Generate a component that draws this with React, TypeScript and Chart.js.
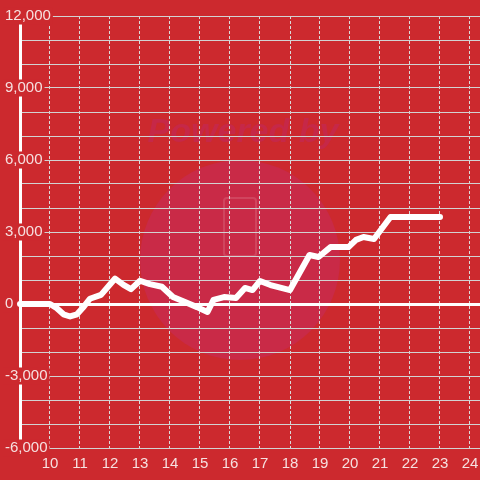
import React, { useEffect, useRef } from "react";
import { Chart, registerables } from "chart.js";

Chart.register(...registerables);

// Hours of the day (x) and cumulative values (y)
const hours = [9, 10, 10.2, 10.45, 10.67, 10.9, 11.1, 11.33, 11.7, 12.17, 12.45, 12.7, 13.0, 13.33, 13.73, 14.1, 14.5, 14.9, 15.25, 15.45, 15.8, 16.2, 16.5, 16.75, 17.0, 17.35, 18.0, 18.65, 18.95, 19.35, 19.95, 20.2, 20.45, 20.8, 21.35, 23.0];
const values = [0, 0, -150, -430, -520, -430, -150, 220, 380, 1060, 800, 620, 970, 830, 720, 290, 80, -130, -330, 170, 290, 250, 670, 580, 960, 790, 580, 2040, 1960, 2370, 2370, 2670, 2790, 2710, 3625, 3625];
const yTickLabels = [-6000, -3000, 0, 3000, 6000, 9000, 12000];
const xTickLabels = [10, 11, 12, 13, 14, 15, 16, 17, 18, 19, 20, 21, 22, 23, 24];

const BG = "#cc292e";
const FONT = "'Liberation Sans', Arial, sans-serif";

const backgroundPlugin = {
  id: "bgWatermark",
  beforeDraw(chart: any) {
    const { ctx, width, height } = chart;
    ctx.save();
    ctx.fillStyle = BG;
    ctx.fillRect(0, 0, width, height);
    // watermark
    ctx.fillStyle = "#c92a47";
    ctx.beginPath();
    ctx.arc(240, 260, 100, 0, Math.PI * 2);
    ctx.fill();
    ctx.font = "italic bold 34px " + FONT;
    ctx.fillStyle = "#c62848";
    ctx.textAlign = "center";
    ctx.textBaseline = "middle";
    ctx.fillText("Powered by", 243, 133);
    ctx.strokeStyle = "rgba(255,255,255,0.13)";
    ctx.lineWidth = 2;
    const x = 224, y = 198, w = 32, h = 58, r = 3;
    ctx.beginPath();
    ctx.moveTo(x + r, y);
    ctx.lineTo(x + w - r, y);
    ctx.quadraticCurveTo(x + w, y, x + w, y + r);
    ctx.lineTo(x + w, y + h - r);
    ctx.quadraticCurveTo(x + w, y + h, x + w - r, y + h);
    ctx.lineTo(x + r, y + h);
    ctx.quadraticCurveTo(x, y + h, x, y + h - r);
    ctx.lineTo(x, y + r);
    ctx.quadraticCurveTo(x, y, x + r, y);
    ctx.stroke();
    ctx.restore();
  },
};

export default function App() {
  const ref = useRef<HTMLCanvasElement | null>(null);
  useEffect(() => {
    document.body.style.margin = "0";
    const canvas = ref.current!;
    const points = hours.map((h, i) => ({ x: h, y: values[i] }));
    const chart = new Chart(canvas, {
      type: "line",
      data: {
        datasets: [
          {
            data: points,
            borderColor: "#ffffff",
            borderWidth: 6,
            pointRadius: 0,
            tension: 0,
            borderCapStyle: "round",
            borderJoinStyle: "round",
            fill: false,
            clip: false as any,
          },
        ],
      },
      options: {
        animation: false,
        responsive: false,
        devicePixelRatio: 1,
        layout: { padding: { left: 20, right: 0, top: 16, bottom: 0 } },
        plugins: { legend: { display: false }, tooltip: { enabled: false } },
        scales: {
          x: {
            type: "linear",
            min: 9,
            max: 9 + 460 / 30,
            border: { display: false, dash: [3, 2] },
            grid: {
              color: "#dadada",
              lineWidth: 1,
              drawTicks: false,
            },
            afterFit: (s: any) => {
              s.paddingLeft = 0;
              s.paddingRight = 0;
            },
            ticks: {
              stepSize: 1,
              includeBounds: false,
              padding: 7,
              color: "#f6e0e0",
              font: { size: 15, family: FONT },
              maxRotation: 0,
              autoSkip: false,
              callback: (v: any) => (xTickLabels.includes(Number(v)) ? String(v) : ""),
            },
          },
          y: {
            type: "linear",
            min: -6000,
            max: 12000,
            border: { display: true, color: "#ffffff", width: 3, z: 0 },
            grid: {
              drawTicks: false,
              color: (c: any) => (c.tick && c.tick.value === 0 ? "#ffffff" : "#d2d2d2"),
              lineWidth: (c: any) => (c.tick && c.tick.value === 0 ? 3 : 1),
            },
            afterFit: (s: any) => {
              s.width = 0;
              s.paddingTop = 0;
              s.paddingBottom = 0;
            },
            ticks: {
              stepSize: 1000,
              mirror: true,
              padding: -15,
              color: "#f6e0e0",
              font: { size: 15, family: FONT, lineHeight: 1 },
              showLabelBackdrop: (c: any) => yTickLabels.includes(c.tick.value),
              backdropColor: BG,
              backdropPadding: { left: 2, right: 2, top: 1, bottom: 1 },
              autoSkip: false,
              callback: (v: any) =>
                yTickLabels.includes(Number(v)) ? Number(v).toLocaleString("en-US") : "",
            } as any,
          },
        },
      },
      plugins: [backgroundPlugin],
    } as any);
    return () => chart.destroy();
  }, []);
  return (
    <div style={{ position: "absolute", left: 0, top: 0, width: 480, height: 480 }}>
      <canvas ref={ref} width={480} height={480} style={{ width: 480, height: 480, display: "block" }} />
    </div>
  );
}
